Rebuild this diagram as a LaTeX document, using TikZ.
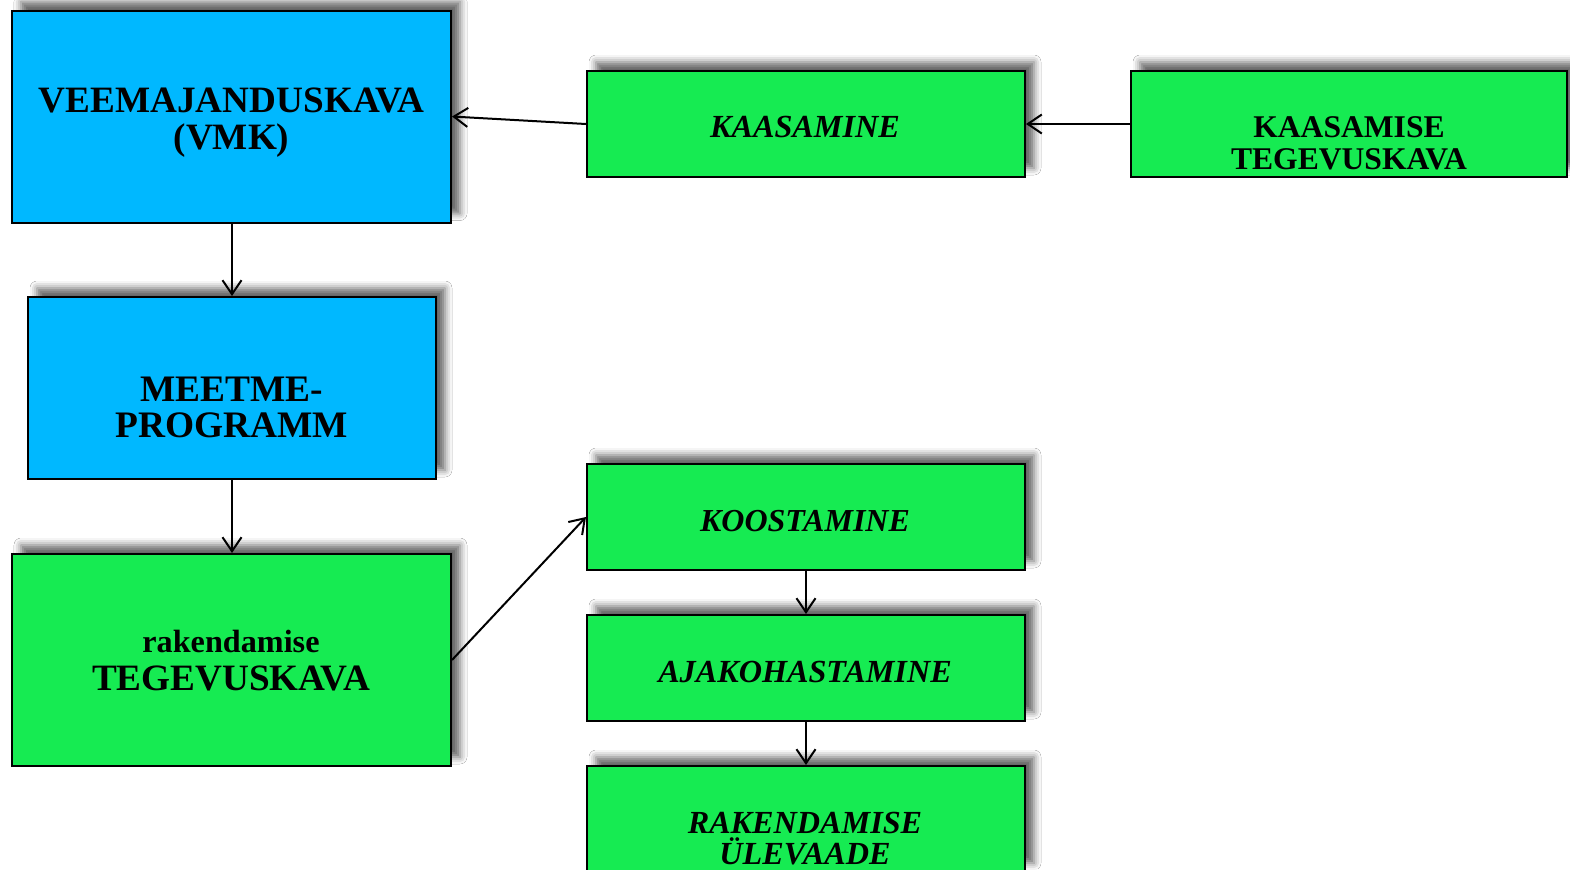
\documentclass[tikz,border=0pt]{standalone}
\usepackage{fontspec}
\setmainfont{Liberation Serif}
\usetikzlibrary{arrows.meta,shadows.blur}
\definecolor{boxblue}{RGB}{0,184,255}
\definecolor{boxgreen}{RGB}{22,235,82}
\tikzset{
  box/.style={draw=black, line width=1pt, rectangle, inner sep=0pt,
    blur shadow={shadow xshift=4.5pt, shadow yshift=4.5pt, shadow blur radius=3.5pt, shadow opacity=60}},
  bluebox/.style={box, fill=boxblue},
  greenbox/.style={box, fill=boxgreen},
  big/.style={minimum width=219.5pt, minimum height=106pt},
  small/.style={minimum width=219pt, minimum height=53pt},
  lbl/.style={align=center, inner sep=0pt, font=\bfseries},
  arr/.style={line width=1pt, -{Straight Barb[length=7pt,width=9.5pt,line width=1pt]}},
}
\begin{document}
\begin{tikzpicture}[x=0.5pt,y=-0.5pt]
\useasboundingbox (0,0) rectangle (1570,869);
\fill[white] (0,0) rectangle (1570,869);
% boxes
\node[bluebox, big] (vmk) at (231.5,116.5) {};
\node[bluebox, minimum width=204pt, minimum height=91pt] (meet) at (232,388) {};
\node[greenbox, big] (rak) at (231.5,660) {};
\node[greenbox, small] (kaas) at (806,124) {};
\node[greenbox, minimum width=218pt, minimum height=53pt] (kteg) at (1349,124) {};
\node[greenbox, small] (koos) at (806,517) {};
\node[greenbox, small] (ajak) at (806,668) {};
\node[greenbox, small] (raku) at (806,819) {};
% labels
\node[lbl, font=\bfseries\fontsize{18.6}{18.5}\selectfont] (vmkT) at (231.5,123) {VEEMAJANDUSKAVA\\(VMK)};
\node[lbl, font=\bfseries\fontsize{18.7}{18}\selectfont] (meetT) at (231.5,407) {MEETME-\\PROGRAMM};
\node[lbl, font=\bfseries\fontsize{18.6}{19}\selectfont] (rakT) at (231,661) {{\fontsize{16.1}{19}\selectfont rakendamise}\\TEGEVUSKAVA};
\node[lbl, font=\bfseries\itshape\fontsize{16.1}{16}\selectfont] (kaasT) at (805,127) {KAASAMINE};
\node[lbl, font=\bfseries\fontsize{15.8}{16}\selectfont] (ktegT) at (1349,143) {KAASAMISE\\TEGEVUSKAVA};
\node[lbl, font=\bfseries\itshape\fontsize{16}{16}\selectfont] (koosT) at (805,521) {KOOSTAMINE};
\node[lbl, font=\bfseries\itshape\fontsize{16.1}{16}\selectfont] (ajakT) at (805,671.5) {AJAKOHASTAMINE};
\node[lbl, font=\bfseries\itshape\fontsize{16.1}{15.5}\selectfont] (rakuT) at (805,838.5) {RAKENDAMISE\\ÜLEVAADE};
% connectors
\draw[arr] (kaas.west) -- (vmk.east);
\draw[arr] (kteg.west) -- (kaas.east);
\draw[arr] (vmk.south -| meet.north) -- (meet.north);
\draw[arr] (meet.south) -- (rak.north -| meet.south);
\draw[arr] (rak.east) -- (koos.west);
\draw[arr] (koos.south) -- (ajak.north);
\draw[arr] (ajak.south) -- (raku.north);
\end{tikzpicture}
\end{document}
